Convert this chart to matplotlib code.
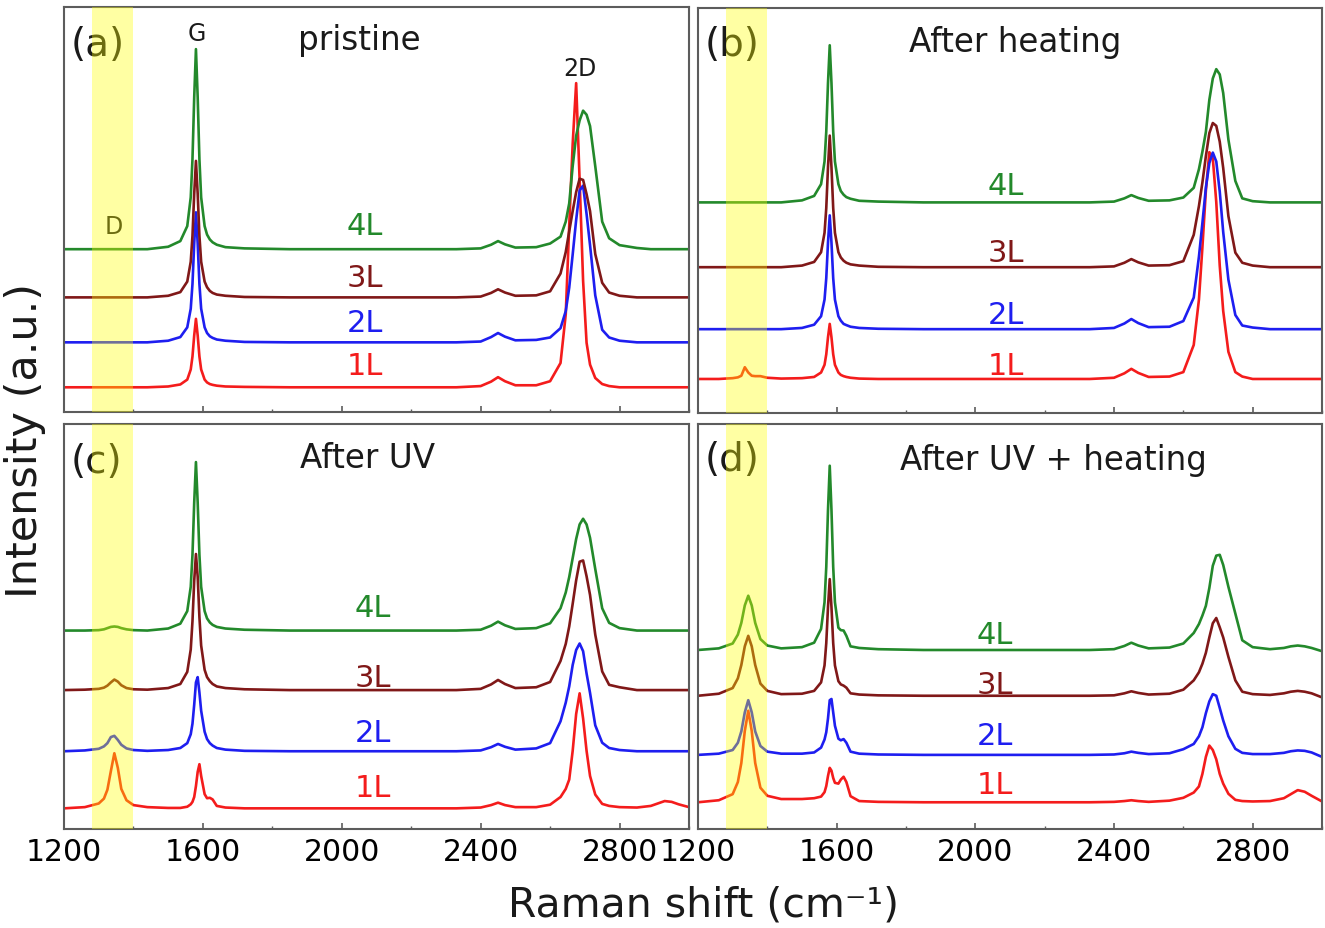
"""
Raman spectra of 1-4 layer graphene: pristine, after heating,
after UV and after UV + heating (2 x 2 panels, stacked traces).
"""

import matplotlib

matplotlib.use("Agg")
import matplotlib.pyplot as plt
from matplotlib.ticker import MultipleLocator

# ---------------------------------------------------------------- data
# Raman shift grid (cm^-1) shared by every trace
RAMAN_SHIFT = [
    1200, 1260, 1300, 1315, 1325, 1335, 1345, 1355, 1365, 1380,
    1400, 1440, 1500, 1535, 1555, 1565, 1570, 1575, 1580, 1585,
    1590, 1595, 1605, 1612, 1620, 1628, 1640, 1665, 1720, 1850,
    2100, 2330, 2400, 2430, 2450, 2470, 2500, 2560, 2600, 2630,
    2645, 2655, 2665, 2675, 2685, 2695, 2705, 2715, 2730, 2750,
    2770, 2800, 2850, 2890, 2910, 2930, 2950, 2970, 3000,
]

LAYERS = ["1L", "2L", "3L", "4L"]

# intensities above each trace's own baseline (a.u.)
PRISTINE_1L = [
    0, 0, 0, 0, 0, 0, 0, 0, 0, 0,
    0, 0, 0.2, 0.7, 1.9, 4.4, 7.6, 12.8, 16.9, 12.8,
    7.6, 4.4, 1.9, 1.2, 0.8, 0.6, 0.4, 0.2, 0.1, 0,
    0, 0, 0.3, 1.4, 2.5, 1.5, 0.5, 0.5, 1.5, 6.0,
    18.0, 39.8, 60.1, 75.1, 51.1, 26.3, 11.0, 5.6, 2.3, 0.8,
    0.3, 0, 0, 0, 0, 0, 0, 0, 0,
]
PRISTINE_2L = [
    0, 0, 0, 0, 0, 0, 0, 0, 0, 0,
    0, 0, 0.4, 1.3, 3.7, 8.3, 14.4, 24.4, 32.1, 24.4,
    14.4, 8.3, 3.7, 2.3, 1.5, 1.1, 0.7, 0.4, 0.1, 0,
    0, 0, 0.2, 1.3, 2.3, 1.4, 0.5, 0.6, 1.2, 3.5,
    7.7, 13.5, 21.7, 30.2, 37.5, 38.7, 31.7, 24.0, 11.6, 3.1,
    1.2, 0.4, 0, 0, 0, 0, 0, 0, 0,
]
PRISTINE_3L = [
    0, 0, 0, 0, 0, 0, 0, 0, 0, 0,
    0, 0, 0.4, 1.3, 3.9, 8.8, 15.2, 25.6, 33.7, 25.6,
    15.2, 8.8, 3.9, 2.5, 1.6, 1.1, 0.7, 0.4, 0.1, 0,
    0, 0, 0.2, 1.1, 2.0, 1.2, 0.4, 0.5, 1.5, 5.9,
    11.2, 16.3, 21.3, 26.0, 29.3, 29.0, 25.5, 21.3, 10.7, 3.6,
    1.2, 0.4, 0, 0, 0, 0, 0, 0, 0,
]
PRISTINE_4L = [
    0, 0, 0, 0, 0, 0, 0, 0, 0, 0,
    0, 0, 0.6, 2.0, 5.7, 12.8, 22.2, 37.5, 49.4, 37.5,
    22.2, 12.8, 5.7, 3.6, 2.4, 1.7, 1.1, 0.5, 0.2, 0,
    0, 0, 0.2, 1.1, 2.0, 1.2, 0.4, 0.5, 1.4, 3.1,
    6.8, 11.3, 20.5, 28.0, 31.8, 34.2, 33.2, 30.4, 20.5, 6.8,
    2.7, 1.0, 0.3, 0, 0, 0, 0, 0, 0,
]

HEATED_1L = [
    0, 0, 0.2, 0.4, 0.8, 2.9, 1.6, 0.8, 0.7, 0.7,
    0.3, 0.1, 0.2, 0.5, 1.6, 3.5, 6.1, 10.3, 13.6, 10.3,
    6.1, 3.5, 1.6, 1.0, 0.7, 0.5, 0.3, 0.1, 0, 0,
    0, 0, 0.3, 1.4, 2.5, 1.5, 0.5, 0.6, 1.7, 8.4,
    19.6, 32.5, 46.5, 56.0, 54.5, 43.7, 28.0, 16.8, 6.7, 1.7,
    0.6, 0, 0, 0, 0, 0, 0, 0, 0,
]
HEATED_2L = [
    0, 0, 0, 0, 0, 0, 0, 0, 0, 0,
    0, 0, 0.3, 1.1, 3.2, 7.3, 12.6, 21.4, 28.1, 21.4,
    12.6, 7.3, 3.2, 2.1, 1.3, 1.0, 0.6, 0.3, 0.1, 0,
    0, 0, 0.3, 1.4, 2.5, 1.5, 0.5, 0.6, 2.0, 7.8,
    17.9, 26.2, 34.9, 41.0, 43.6, 41.4, 34.0, 24.0, 12.2, 3.5,
    0.9, 0.4, 0, 0, 0, 0, 0, 0, 0,
]
HEATED_3L = [
    0, 0, 0, 0, 0, 0, 0, 0, 0, 0,
    0, 0, 0.4, 1.3, 3.7, 8.5, 14.6, 24.7, 32.5, 24.7,
    14.6, 8.5, 3.7, 2.4, 1.6, 1.1, 0.7, 0.4, 0.1, 0,
    0, 0, 0.2, 1.1, 2.0, 1.2, 0.4, 0.5, 1.5, 8.0,
    15.1, 20.9, 27.4, 33.1, 35.6, 34.9, 31.0, 24.5, 12.6, 3.6,
    1.1, 0.4, 0, 0, 0, 0, 0, 0, 0,
]
HEATED_4L = [
    0, 0, 0, 0, 0, 0, 0, 0, 0, 0,
    0, 0, 0.5, 1.6, 4.5, 10.1, 17.5, 29.5, 38.8, 29.5,
    17.5, 10.1, 4.5, 2.8, 1.9, 1.3, 0.9, 0.4, 0.2, 0,
    0, 0, 0.2, 1.0, 1.8, 1.1, 0.4, 0.5, 1.2, 3.6,
    8.2, 12.5, 17.4, 25.3, 30.6, 32.9, 31.6, 27.0, 15.5, 5.3,
    1.0, 0.3, 0, 0, 0, 0, 0, 0, 0,
]

UV_1L = [
    0, 0.3, 1.2, 2.4, 4.6, 9.2, 13.6, 10.0, 4.8, 2.0,
    0.8, 0.3, 0.1, 0.1, 0.4, 1.0, 1.6, 2.8, 5.5, 9.0,
    10.9, 8.0, 3.5, 2.5, 2.6, 2.2, 0.6, 0.2, 0, 0,
    0, 0, 0.2, 0.8, 1.4, 0.8, 0.3, 0.3, 0.9, 2.8,
    4.8, 7.1, 14.2, 23.3, 28.4, 22.2, 14.2, 8.0, 3.4, 1.1,
    0.6, 0.3, 0.2, 0.6, 1.2, 1.8, 1.6, 1.0, 0.3,
]
UV_2L = [
    0, 0.2, 0.6, 1.2, 2.0, 3.5, 3.8, 2.8, 1.6, 0.7,
    0.3, 0.1, 0.3, 0.8, 2.0, 4.2, 6.8, 11.5, 17.0, 18.3,
    14.5, 10.0, 4.8, 3.0, 2.0, 1.4, 0.8, 0.4, 0.1, 0,
    0, 0, 0.2, 1.0, 1.8, 1.1, 0.4, 0.7, 2.0, 7.4,
    12.0, 16.0, 21.3, 25.0, 26.6, 24.7, 19.2, 14.4, 6.4, 2.1,
    0.8, 0.3, 0, 0, 0, 0, 0, 0, 0,
]
UV_3L = [
    0, 0.1, 0.3, 0.6, 1.1, 1.9, 2.6, 2.1, 1.2, 0.5,
    0.2, 0.1, 0.5, 1.5, 4.5, 10.0, 17.0, 27.0, 33.6, 28.0,
    18.0, 11.0, 5.0, 3.2, 2.2, 1.5, 0.9, 0.5, 0.2, 0,
    0, 0, 0.3, 1.4, 2.5, 1.5, 0.5, 0.7, 2.0, 7.2,
    11.4, 15.7, 21.3, 27.1, 31.7, 32.0, 28.1, 23.5, 13.7, 4.6,
    1.3, 0.7, 0, 0, 0, 0, 0, 0, 0,
]
UV_4L = [
    0, 0, 0.1, 0.3, 0.6, 0.9, 1.0, 0.9, 0.6, 0.3,
    0.1, 0, 0.5, 1.7, 4.8, 10.8, 18.7, 31.6, 41.6, 31.6,
    18.7, 10.8, 4.8, 3.0, 2.0, 1.4, 0.9, 0.5, 0.2, 0,
    0, 0, 0.2, 1.2, 2.2, 1.3, 0.4, 0.6, 1.8, 5.5,
    9.4, 13.2, 17.9, 22.6, 26.2, 27.6, 26.2, 22.9, 15.2, 5.5,
    1.9, 0.6, 0, 0, 0, 0, 0, 0, 0,
]

UV_HEATED_1L = [
    0, 0.5, 2.0, 5.0, 9.7, 17.6, 22.6, 17.6, 9.7, 3.6,
    1.6, 0.8, 0.8, 1.0, 1.4, 2.5, 4.0, 6.5, 8.5, 7.8,
    6.0, 4.8, 4.6, 5.6, 6.3, 5.0, 1.5, 0.3, 0.1, 0,
    0, 0, 0.1, 0.3, 0.5, 0.3, 0.1, 0.4, 1.1, 2.4,
    3.9, 7.0, 11.2, 14.0, 12.9, 10.6, 7.0, 4.6, 2.1, 0.6,
    0.3, 0.2, 0.3, 1.0, 2.0, 3.0, 2.6, 1.6, 0.2,
]
UV_HEATED_2L = [
    0, 0.3, 1.2, 3.0, 5.8, 10.5, 13.5, 10.5, 5.8, 2.2,
    0.8, 0.3, 0.3, 0.6, 1.8, 3.8, 5.6, 9.0, 13.5, 13.8,
    10.5, 7.2, 4.0, 3.6, 3.9, 3.0, 0.8, 0.3, 0.1, 0,
    0, 0, 0.1, 0.4, 0.8, 0.5, 0.2, 0.4, 1.4, 2.7,
    4.6, 6.8, 10.3, 13.2, 15.0, 14.6, 11.6, 8.5, 4.6, 1.5,
    0.5, 0.2, 0.2, 0.5, 0.9, 1.1, 1.0, 0.6, -0.5,
]
UV_HEATED_3L = [
    0, 0.5, 1.9, 4.3, 7.6, 12.2, 14.8, 12.2, 7.6, 3.0,
    1.2, 0.4, 0.5, 1.2, 3.3, 7.5, 13.0, 21.9, 28.8, 21.9,
    13.0, 7.5, 3.6, 2.8, 2.5, 2.0, 0.6, 0.3, 0.1, 0,
    0, 0, 0.1, 0.6, 1.1, 0.7, 0.3, 0.5, 1.5, 3.8,
    5.8, 7.9, 10.6, 14.4, 17.9, 19.2, 16.9, 14.4, 9.6, 3.8,
    1.0, 0.4, 0.2, 0.6, 1.0, 1.2, 1.0, 0.6, -0.4,
]
UV_HEATED_4L = [
    0, 0.4, 1.6, 3.8, 6.7, 11.0, 13.4, 11.0, 6.7, 2.7,
    1.1, 0.4, 0.7, 1.8, 5.2, 11.8, 20.5, 34.6, 45.5, 34.6,
    20.5, 11.8, 5.5, 4.9, 4.8, 3.5, 0.9, 0.5, 0.2, 0,
    0, 0, 0.2, 1.0, 1.8, 1.1, 0.4, 0.6, 1.6, 4.2,
    6.4, 8.5, 10.9, 15.3, 20.8, 23.3, 23.5, 21.0, 15.6, 9.0,
    2.4, 0.7, 0.2, 0.5, 0.9, 1.1, 0.9, 0.5, -0.3,
]

# ---------------------------------------------------------------- layout
W, H = 1325, 929
COLORS = {"1L": "#f41c1c", "2L": "#1e1ef0", "3L": "#801818", "4L": "#23892b"}
BAND = (1280, 1400)
FRAME = "#5c5c5c"

# tag, title, traces (1L..4L), baselines, label x, label lifts,
# title x / baseline y (axes fraction), tag x / y, box (l, t, r, b) in px
PANELS = [
    ("(a)", "pristine",
     [PRISTINE_1L, PRISTINE_2L, PRISTINE_3L, PRISTINE_4L],
     [6.1, 17.2, 28.3, 40.2], 2067, [5.3, 4.9, 5.0, 5.8],
     (0.473, 0.896), (0.010, 0.909), (64, 8, 689, 413)),
    ("(b)", "After heating",
     [HEATED_1L, HEATED_2L, HEATED_3L, HEATED_4L],
     [8.4, 20.7, 36.0, 52.0], 2089, [3.3, 3.7, 3.7, 4.1],
     (0.509, 0.894), (0.011, 0.911), (698, 9, 1322, 414)),
    ("(c)", "After UV",
     [UV_1L, UV_2L, UV_3L, UV_4L],
     [5.1, 19.2, 34.3, 49.0], 2090, [5.2, 4.7, 3.1, 5.8],
     (0.486, 0.893), (0.010, 0.909), (64, 425, 689, 830)),
    ("(d)", "After UV + heating",
     [UV_HEATED_1L, UV_HEATED_2L, UV_HEATED_3L, UV_HEATED_4L],
     [6.6, 18.3, 32.9, 44.2], 2057, [4.5, 4.7, 2.7, 3.9],
     (0.569, 0.889), (0.011, 0.914), (698, 425, 1322, 830)),
]

plt.rcParams["font.family"] = ["DejaVu Sans"]

fig = plt.figure(figsize=(W / 100, H / 100), dpi=100)

for i, (tag, title, traces, bases, lab_x, lifts, title_xy, tag_xy, box) in enumerate(PANELS):
    left, top, right, bottom = box
    ax = fig.add_axes([left / W, 1 - bottom / H, (right - left) / W, (bottom - top) / H])

    for layer, trace, base, lift in zip(LAYERS, traces, bases, lifts):
        assert len(trace) == len(RAMAN_SHIFT), (tag, layer)
        ax.plot(RAMAN_SHIFT, [v + base for v in trace], color=COLORS[layer],
                lw=1.9, zorder=2)
        ax.text(lab_x, base + lift, layer, color=COLORS[layer], fontsize=22,
                ha="center", va="center", zorder=3)

    # translucent band sits on top, so traces and text inside turn orange/olive
    ax.axvspan(*BAND, color="#ffff00", alpha=0.36, lw=0, zorder=4)

    ax.text(*title_xy, title, transform=ax.transAxes, fontsize=23.5,
            ha="center", va="baseline", color="#1a1a1a", zorder=3)
    ax.text(*tag_xy, tag, transform=ax.transAxes, fontsize=28,
            ha="left", va="center", color="#1a1a1a", zorder=3)

    if i == 0:
        ax.text(1582, 93.6, "G", fontsize=17, ha="center", va="center",
                color="#1a1a1a", zorder=3)
        ax.text(2686, 85.0, "2D", fontsize=17, ha="center", va="center",
                color="#1a1a1a", zorder=3)
        ax.text(1342, 46.0, "D", fontsize=17, ha="center", va="center",
                color="#1a1a1a", zorder=3)

    ax.set_xlim(1200, 3000)
    ax.set_ylim(0, 100)
    ax.set_yticks([])
    ax.xaxis.set_major_locator(MultipleLocator(400))
    ax.xaxis.set_minor_locator(MultipleLocator(200))
    ax.tick_params(axis="x", which="major", direction="in", length=4.5, width=1.2,
                   color=FRAME, labelsize=21.5, pad=6, top=False)
    ax.tick_params(axis="x", which="minor", direction="in", length=2.5, width=1.0,
                   color=FRAME, top=False)
    if i < 2:
        ax.tick_params(axis="x", labelbottom=False)
    for spine in ax.spines.values():
        spine.set_color(FRAME)
        spine.set_linewidth(1.5)

fig.text(703 / W, 1 - 906 / H, "Raman shift (cm\u207b\u00b9)", fontsize=29.5,
         ha="center", va="center", color="#1a1a1a")
fig.text(25 / W, 1 - 441 / H, "Intensity (a.u.)", fontsize=31, rotation=90,
         ha="center", va="center", color="#1a1a1a")

fig.savefig("out.png", dpi=100)
plt.close(fig)
